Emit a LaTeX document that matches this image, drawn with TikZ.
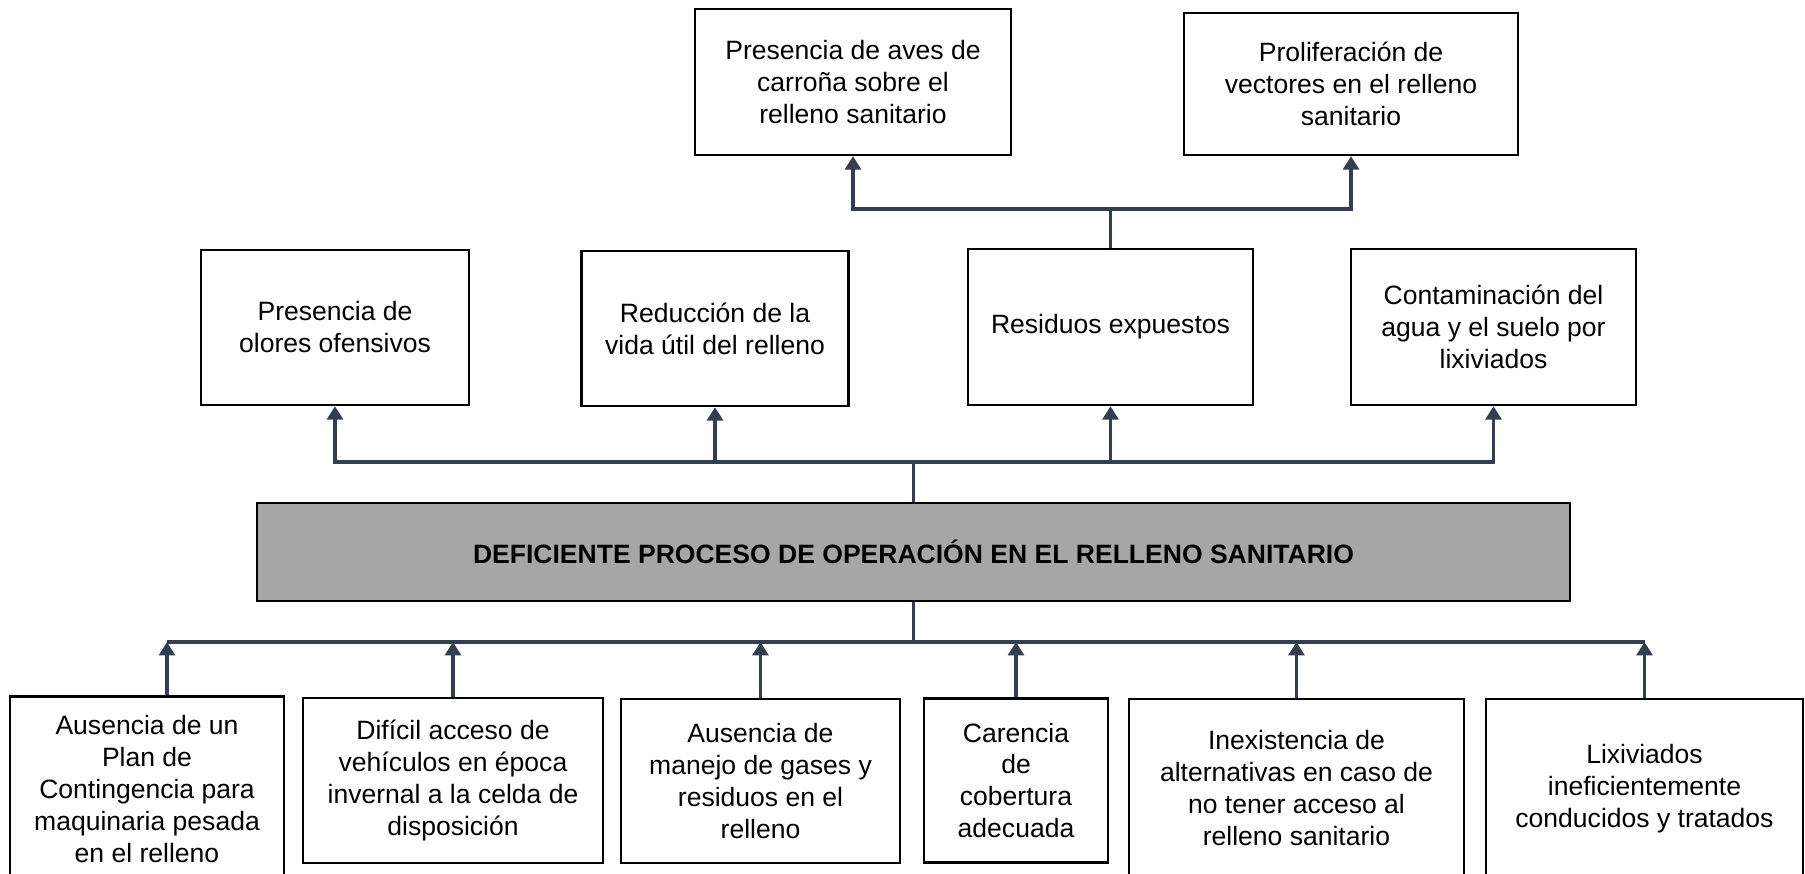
\documentclass[tikz,border=0pt]{standalone}
\usepackage{fontspec}
\setmainfont{Liberation Sans}
\usepackage{tikz}
\usetikzlibrary{arrows.meta}
\definecolor{linkcol}{RGB}{51,63,80}
\definecolor{probgray}{RGB}{166,166,166}

\begin{document}
\begin{tikzpicture}[x=0.02cm,y=-0.02cm,
	cbox/.style={draw,line width=1.4pt,align=center,inner sep=0pt,
		font=\fontsize{15.1}{18.2}\selectfont},
	probbox/.style={cbox,fill=probgray,font=\fontsize{15.1}{18.2}\selectfont\bfseries},
	conn/.style={draw=linkcol,line width=2.2pt},
	connarrow/.style={conn,-{Triangle[length=0.27cm,width=0.32cm]}}]
	\path[use as bounding box,clip] (0,0) rectangle (1805,874);
	% efectos
	\node[cbox,minimum width=6.32cm,minimum height=2.92cm] (aves) at (853,82) {Presencia de aves de\\carroña sobre el\\relleno sanitario};
	\node[cbox,minimum width=6.68cm,minimum height=2.84cm] (vectores) at (1351,84) {Proliferación de\\vectores en el relleno\\sanitario};
	\node[cbox,minimum width=5.36cm,minimum height=3.10cm] (olores) at (335,327.5) {Presencia de\\olores ofensivos};
	\node[cbox,minimum width=5.34cm,minimum height=3.10cm] (reduccion) at (715,328.5) {Reducción de la\\vida útil del relleno};
	\node[cbox,minimum width=5.70cm,minimum height=3.12cm] (residuos) at (1110.5,327) {Residuos expuestos};
	\node[cbox,minimum width=5.70cm,minimum height=3.12cm] (lixagua) at (1493.5,327) {Contaminación del\\agua y el suelo por\\lixiviados};
	% problema central
	\node[probbox,minimum width=26.26cm,minimum height=1.96cm] (problema) at (913.5,552) {DEFICIENTE PROCESO DE OPERACIÓN EN EL RELLENO SANITARIO};
	% causas
	\node[cbox,minimum width=5.48cm,minimum height=3.70cm] (plan) at (147,789) {Ausencia de un\\Plan de\\Contingencia para\\maquinaria pesada\\en el relleno};
	\node[cbox,minimum width=6.00cm,minimum height=3.30cm] (acceso) at (453,780.5) {Difícil acceso de\\vehículos en época\\invernal a la celda de\\disposición};
	\node[cbox,minimum width=5.58cm,minimum height=3.28cm] (gases) at (760.5,781) {Ausencia de\\manejo de gases y\\residuos en el\\relleno};
	\node[cbox,minimum width=3.68cm,minimum height=3.28cm] (cobertura) at (1016,780.5) {Carencia\\de\\cobertura\\adecuada};
	\node[cbox,minimum width=6.70cm,minimum height=3.56cm] (alternativas) at (1296.5,788) {Inexistencia de\\alternativas en caso de\\no tener acceso al\\relleno sanitario};
	\node[cbox,minimum width=6.34cm,minimum height=3.60cm] (lixiviados) at (1644.5,789) {Lixiviados\\ineficientemente\\conducidos y tratados};

	% conectores de arriba
	\coordinate (jtop) at (1110.5,209);
	\draw[conn] (residuos.north) -- (jtop);
	\draw[connarrow] (jtop) -| (aves.south);
	\draw[connarrow] (jtop) -| (vectores.south);
	\coordinate (jmid) at (913.5,462);
	\draw[conn] (problema.north) -- (jmid);
	\foreach \n in {olores,reduccion,residuos,lixagua}
	\draw[connarrow] (jmid) -| (\n.south);
	% conectores de abajo
	\coordinate (jbot) at (913.5,642);
	\coordinate (plantop) at ([xshift=0.4cm]plan.north);
	\draw[conn] (problema.south) -- (jbot);
	\draw[conn] (plantop |- jbot) -- (lixiviados.north |- jbot);
	\draw[connarrow] (plantop) -- (plantop |- jbot);
	\foreach \n in {acceso,gases,cobertura,alternativas,lixiviados}
	\draw[connarrow] (\n.north) -- (\n.north |- jbot);
\end{tikzpicture}
\end{document}
